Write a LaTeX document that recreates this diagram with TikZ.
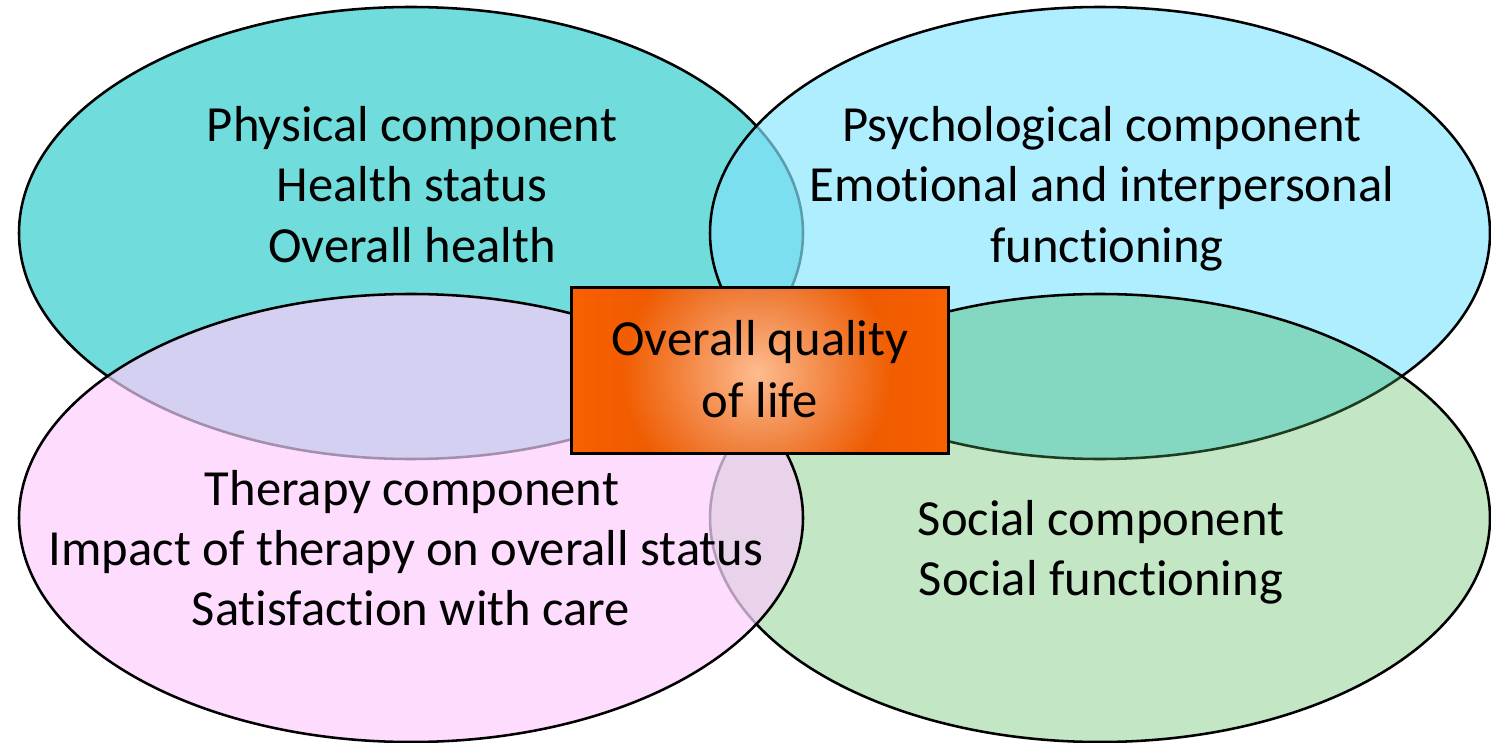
\documentclass[tikz,border=0pt]{standalone}
\usepackage{fontspec}
\setmainfont{Carlito}[Ligatures=NoCommon]
\usetikzlibrary{fadings}

% base fills of the four components
\definecolor{cPhys}{HTML}{70DCDB}
\definecolor{cPsy}{HTML}{AEEEFE}
\definecolor{cSoc}{HTML}{C3E6C5}
\definecolor{cTher}{HTML}{FDDCFE}
% fills where two components overlap
\definecolor{cPhysPsy}{HTML}{7BDFF0}
\definecolor{cPsySoc}{HTML}{84D8C2}
\definecolor{cPhysTher}{HTML}{D4D0F2}
\definecolor{cTherSoc}{HTML}{E8D3EA}
% outlines seen through an overlying component
\definecolor{lPhysPsy}{HTML}{5A9DAE}
\definecolor{lPsySoc}{HTML}{1E3B1E}
\definecolor{lPhysTher}{HTML}{A58DAE}
\definecolor{lTherSoc}{HTML}{B29CB8}
% centre box
\definecolor{boxEdge}{HTML}{F86000}
\definecolor{boxMid}{HTML}{E25400}
\definecolor{boxGlow}{HTML}{FFBC90}

% radial fade for the glow in the centre box
\tikzfading[name=glowfade, inner color=transparent!0, outer color=transparent!100]

\newcommand\ellTL{(411,233) ellipse [x radius=392, y radius=226]}
\newcommand\ellTR{(1100,233) ellipse [x radius=390, y radius=226]}
\newcommand\ellBL{(411,518) ellipse [x radius=392, y radius=224]}
\newcommand\ellBR{(1100,518) ellipse [x radius=390, y radius=224]}

\begin{document}
\begin{tikzpicture}[x=0.02cm,y=-0.02cm,
  rim/.style={line width=1.45pt},
  txt/.style={anchor=base, inner sep=0pt, font=\fontsize{28.8}{38}\selectfont}]
\useasboundingbox (0,0) rectangle (1491,743);

% physical component (bottom layer)
\fill[cPhys] \ellTL;
\draw[rim] \ellTL;

% psychological component
\fill[cPsy] \ellTR;
\begin{scope}
  \clip \ellTR;
  \fill[cPhysPsy] \ellTL;
  \draw[rim, lPhysPsy] \ellTL;
\end{scope}
\draw[rim] \ellTR;

% social component
\fill[cSoc] \ellBR;
\begin{scope}
  \clip \ellBR;
  \fill[cPsySoc] \ellTR;
  \draw[rim, lPsySoc] \ellTR;
\end{scope}
\draw[rim] \ellBR;

% therapy component (top layer)
\fill[cTher] \ellBL;
\begin{scope}
  \clip \ellBL;
  \fill[cPhysTher] \ellTL;
  \fill[cTherSoc] \ellBR;
  \draw[rim, lPhysTher] \ellTL;
  \draw[rim, lTherSoc] \ellBR;
\end{scope}
\draw[rim] \ellBL;

% centre box with its glow
\node[shade, left color=boxEdge, right color=boxEdge, middle color=boxMid,
      minimum width=7.52cm, minimum height=3.3cm, inner sep=0pt] (core) at (760,370.5) {};
\begin{scope}
  \clip (core.south west) rectangle (core.north east);
  \fill[boxGlow, path fading=glowfade] (757,373) circle (135);
\end{scope}
\draw[line width=1.7pt] (core.south west) rectangle (core.north east);

% labels
\node[txt] (phys1) at (412,142) {Physical component};
\node[txt] (phys2) at (412,202) {Health status};
\node[txt] (phys3) at (412,263) {Overall health};

\node[txt] (psy1) at (1102,142) {Psychological component};
\node[txt] (psy2) at (1102,202) {Emotional and interpersonal};
\node[txt] (psy3) at (1107,263) {functioning};

\node[txt] (ther1) at (412,505) {Therapy component};
\node[txt] (ther2) at (406,565) {Impact of therapy on overall status};
\node[txt] (ther3) at (411,625) {Satisfaction with care};

\node[txt] (soc1) at (1101,535) {Social component};
\node[txt] (soc2) at (1101,595) {Social functioning};

\node[txt] (core1) at (760,356) {Overall quality};
\node[txt] (core2) at (760,417) {of life};
\end{tikzpicture}
\end{document}
